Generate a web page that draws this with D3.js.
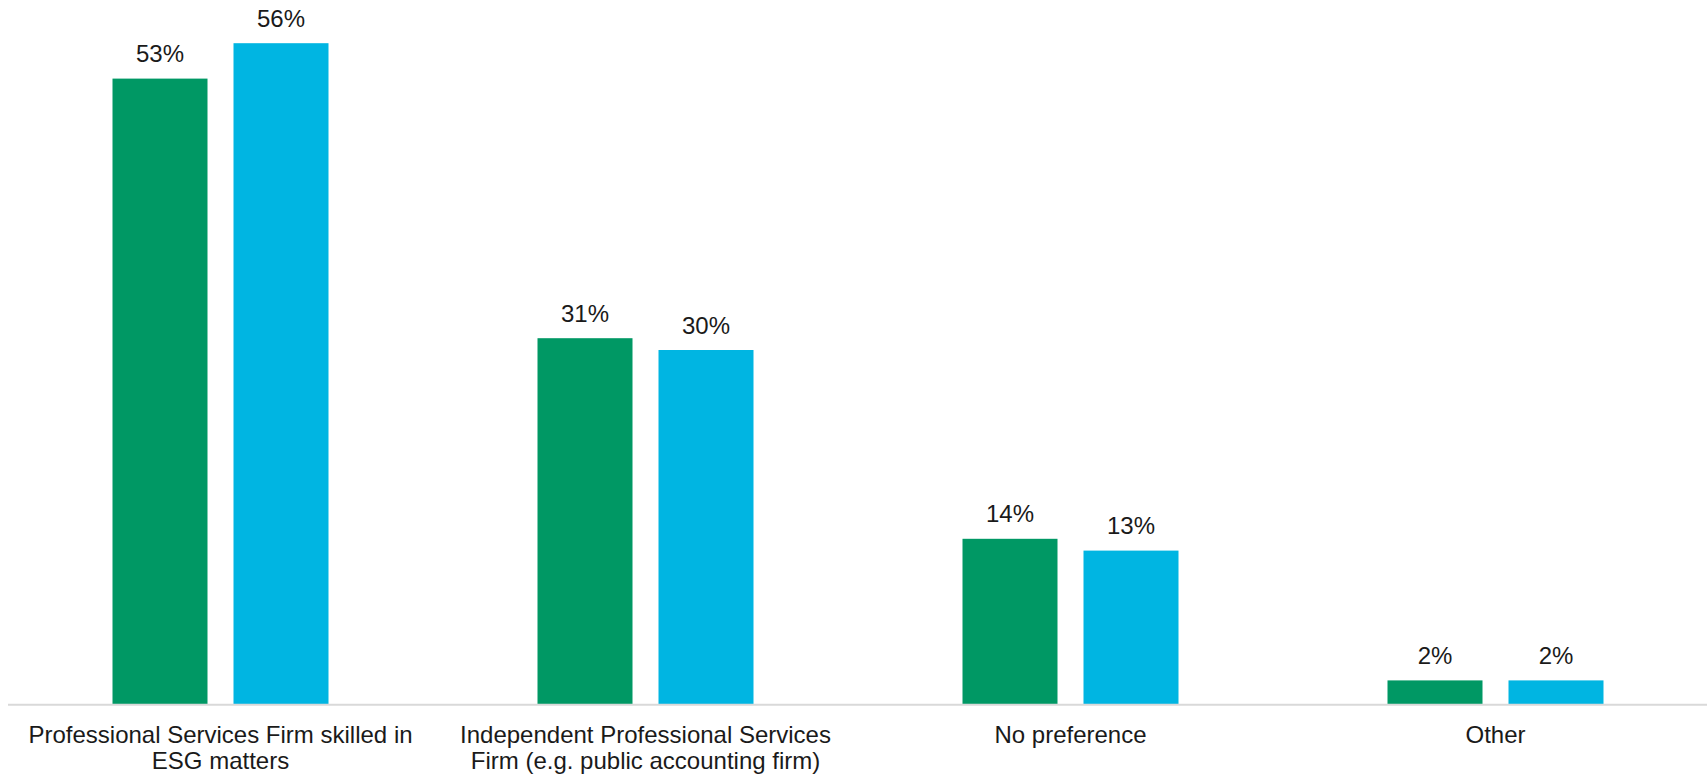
<!DOCTYPE html>
<html>
<head>
<meta charset="utf-8">
<script src="https://cdn.jsdelivr.net/npm/d3@7"></script>
<style>
  html, body { margin: 0; padding: 0; background: #ffffff; }
  svg { display: block; font-family: "Liberation Sans", Arial, sans-serif; }
</style>
</head>
<body>
<svg id="chart" width="1707" height="775"></svg>
<script>
// Preferred provider for ESG assurance, two survey groups
const categories = [
  ["Professional Services Firm skilled in", "ESG matters"],
  ["Independent Professional Services", "Firm (e.g. public accounting firm)"],
  ["No preference"],
  ["Other"]
];
const series = ["groupA", "groupB"];
const groupA = [53, 31, 14, 2];
const groupB = [56, 30, 13, 2];
const colors = ["#009864", "#00B5E2"];

const svg = d3.select("#chart");
const W = 1707, baseY = 704;

const catKeys = categories.map(c => c.join(" "));
const x0 = d3.scaleBand().domain(catKeys).range([8, 1708]);
const x1 = d3.scaleBand().domain(series).range([104.5, 320.5]).paddingInner(26 / 121);
const y = d3.scaleLinear().domain([0, 60]).range([baseY, baseY - 708]);

const rows = catKeys.map((k, i) => ({ key: k, lines: categories[i], values: [groupA[i], groupB[i]] }));

const groups = svg.selectAll("g.cat").data(rows).join("g")
  .attr("class", "cat")
  .attr("transform", d => `translate(${x0(d.key)},0)`);

const bars = groups.selectAll("g.bar")
  .data(d => d.values.map((v, j) => ({ s: series[j], v, j })))
  .join("g").attr("class", "bar");

bars.append("rect")
  .attr("x", d => x1(d.s))
  .attr("y", d => y(d.v))
  .attr("width", x1.bandwidth())
  .attr("height", d => baseY - y(d.v))
  .attr("fill", d => colors[d.j]);

bars.append("text")
  .attr("x", d => x1(d.s) + x1.bandwidth() / 2)
  .attr("y", d => y(d.v) - 16.5)
  .attr("text-anchor", "middle")
  .attr("font-size", 24)
  .attr("fill", "#1a1a1a")
  .text(d => d.v + "%");

// Baseline
svg.append("line")
  .attr("x1", 8).attr("x2", W)
  .attr("y1", baseY + 0.8).attr("y2", baseY + 0.8)
  .attr("stroke", "#d9d9d9").attr("stroke-width", 2);

// Category labels
const xAxis = d3.axisBottom(x0).tickSize(0).tickFormat("");
const axisG = svg.append("g").attr("transform", `translate(0,${baseY})`).call(xAxis);
axisG.select(".domain").remove();
axisG.selectAll(".tick").each(function (k, i) {
  const t = d3.select(this).append("text")
    .attr("text-anchor", "middle")
    .attr("font-size", 24)
    .attr("fill", "#1a1a1a")
    .attr("y", 39);
  categories[i].forEach((line, li) => {
    t.append("tspan").attr("x", 0).attr("dy", li === 0 ? 0 : 26).text(line);
  });
});
</script>
</body>
</html>
